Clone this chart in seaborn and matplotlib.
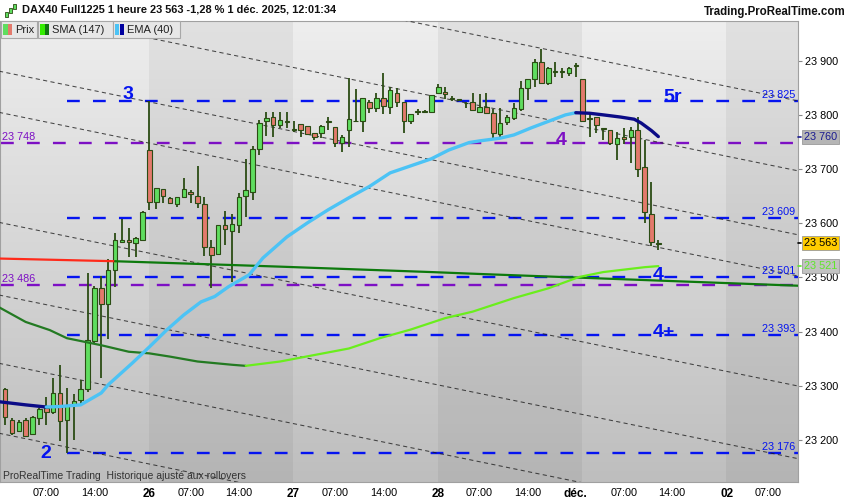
import seaborn as sns
import matplotlib
matplotlib.use("Agg")
import matplotlib.pyplot as plt
import matplotlib.transforms as mtransforms
from matplotlib.patches import Rectangle
from matplotlib.colors import LinearSegmentedColormap
import numpy as np
import pandas as pd

sns.set_style("white")
plt.rcParams['font.family'] = ['Liberation Sans', 'DejaVu Sans']
plt.rcParams['lines.scale_dashes'] = False

# ---- data (hourly bars, index 0 = 25 nov 00:00) ----
bar_idx = list(range(1, 97))
opens = [23294, 23238, 23217, 23237, 23212, 23240, 23260, 23252, 23287, 23238,
         23265, 23274, 23295, 23382, 23480, 23452, 23513, 23566, 23570, 23564,
         23570, 23736, 23640, 23663, 23646, 23636, 23648, 23658, 23651, 23635,
         23556, 23543, 23597, 23585, 23597, 23651, 23658, 23737, 23788, 23796,
         23781, 23786, 23772, 23783, 23780, 23766, 23766, 23787, 23778, 23749,
         23772, 23788, 23789, 23823, 23812, 23831, 23815, 23841, 23824, 23789,
         23805, 23806, 23806, 23840, 23842, 23831, 23829, 23822, 23824, 23806,
         23814, 23803, 23764, 23786, 23794, 23810, 23849, 23866, 23898, 23859,
         23880, 23879, 23877, 23890, 23866, 23792, 23796, 23776, 23773, 23746,
         23759, 23759, 23772, 23703, 23618, 23562]
highs = [23297, 23241, 23237, 23240, 23244, 23260, 23280, 23314, 23338, 23296,
         23285, 23311, 23508, 23484, 23502, 23535, 23583, 23608, 23591, 23575,
         23623, 23826, 23666, 23663, 23648, 23648, 23684, 23662, 23706, 23648,
         23569, 23596, 23622, 23617, 23655, 23719, 23743, 23791, 23806, 23806,
         23806, 23806, 23789, 23783, 23780, 23767, 23781, 23797, 23778, 23763,
         23868, 23847, 23831, 23827, 23840, 23877, 23852, 23849, 23824, 23802,
         23810, 23809, 23837, 23857, 23852, 23834, 23829, 23824, 23841, 23839,
         23840, 23810, 23812, 23800, 23821, 23863, 23867, 23903, 23921, 23888,
         23898, 23886, 23889, 23896, 23866, 23806, 23796, 23776, 23773, 23769,
         23775, 23778, 23796, 23754, 23677, 23569]
lows = [23228, 23209, 23216, 23205, 23211, 23228, 23228, 23249, 23199, 23176,
        23201, 23265, 23289, 23380, 23314, 23386, 23483, 23564, 23538, 23538,
        23569, 23624, 23626, 23637, 23637, 23630, 23646, 23638, 23628, 23540,
        23481, 23542, 23560, 23491, 23583, 23611, 23643, 23726, 23761, 23759,
        23775, 23775, 23769, 23760, 23763, 23754, 23757, 23773, 23741, 23732,
        23741, 23786, 23769, 23803, 23806, 23802, 23801, 23815, 23766, 23784,
        23800, 23805, 23803, 23839, 23829, 23826, 23825, 23812, 23808, 23806,
        23802, 23754, 23760, 23781, 23791, 23808, 23827, 23852, 23858, 23855,
        23869, 23868, 23872, 23869, 23786, 23759, 23767, 23754, 23745, 23716,
        23746, 23711, 23685, 23601, 23558, 23551]
closes = [23243, 23214, 23234, 23208, 23242, 23257, 23252, 23286, 23236, 23265,
          23273, 23295, 23385, 23480, 23451, 23514, 23570, 23569, 23566, 23572,
          23621, 23640, 23666, 23650, 23638, 23648, 23663, 23654, 23637, 23556,
          23542, 23596, 23589, 23598, 23649, 23661, 23737, 23785, 23794, 23781,
          23790, 23788, 23773, 23773, 23764, 23760, 23780, 23788, 23749, 23760,
          23792, 23789, 23831, 23812, 23831, 23816, 23845, 23823, 23788, 23802,
          23807, 23807, 23837, 23851, 23839, 23830, 23828, 23821, 23809, 23814,
          23803, 23767, 23785, 23796, 23812, 23849, 23866, 23898, 23859, 23886,
          23881, 23880, 23886, 23891, 23789, 23795, 23781, 23774, 23749, 23758,
          23755, 23772, 23701, 23620, 23565, 23563]

ema_idx = [0, 4, 7, 9, 12, 15, 16, 19.5, 22, 24.5, 27, 29.5, 31.5, 33.5, 36.5,
           38.5, 42, 45, 48, 51, 54, 57, 60, 63, 65.5, 68.5, 70, 73, 75, 77.5,
           80, 82.5, 84, 86, 88, 90.5, 92.5, 93.5, 95, 96]
ema_val = [23271, 23265, 23261, 23262, 23265, 23287, 23302, 23342, 23372, 23403,
           23431, 23455, 23465, 23483, 23505, 23536, 23575, 23601, 23625, 23647,
           23668, 23693, 23706, 23719, 23735, 23749, 23752, 23757, 23763, 23776,
           23788, 23800, 23804, 23803, 23800, 23796, 23792, 23785, 23771, 23760]

sma_idx = [0, 4, 7.5, 10, 15, 19, 22, 25, 29, 34, 36, 41, 46, 51, 55.5, 60, 65,
           69, 75, 80, 84.5, 88, 94, 96]
sma_val = [23446, 23418, 23403, 23388, 23375, 23363, 23360, 23354, 23345, 23339,
           23337, 23345, 23357, 23369, 23388, 23404, 23425, 23437, 23462, 23480,
           23501, 23510, 23519, 23521]

long_idx = [0, 17, 34, 41, 63, 70, 117]
long_val = [23535, 23530, 23523, 23520, 23510, 23506.5, 23484.5]
long_red_until = 17

level_price = [23825, 23748, 23609, 23501, 23486, 23393, 23176]
level_kind = ['wave', 'pivot', 'wave', 'wave', 'pivot', 'wave', 'wave']
wave_start_idx = 10

channel_idx = [0, 117]
channel_start = [24128, 23999, 23881, 23805, 23602, 23468, 23342, 23213]
channel_end = [23824, 23695, 23577, 23501, 23298, 23164, 23038, 22909]

wave_labels = ['3', '2', '5r', '4', '4', '4+']
wave_x = [18.1, 6.2, 96.7, 81.1, 95.2, 95.2]
wave_y = [23838, 23176, 23832, 23752, 23504, 23398]
wave_kind = ['wave', 'wave', 'wave', 'pivot', 'wave', 'wave']

tick_idx = [7, 14, 21, 28, 35, 42, 49, 56, 63, 70, 77, 84, 91, 98, 105, 112]
tick_lab = ['07:00', '14:00', '26', '07:00', '14:00', '27', '07:00', '14:00',
            '28', '07:00', '14:00', 'déc.', '07:00', '14:00', '02', '07:00']
day_bands = [(21.9, 42.9), (63.9, 84.9), (105.9, 117)]

last_close = 23563
last_ema = 23760
last_sma = 23521

# ---- style ----
GREEN, RED, WICK = '#5fdd5f', '#e37a6c', '#2b4c14'
BLUE, PURPLE = '#0514f0', '#7d10c4'
EMA_UP, EMA_DN = '#4cc3f5', '#0b0b86'
SMA_UP, SMA_DN = '#6aee1c', '#237a22'

fig = plt.figure(figsize=(8.5, 5), dpi=100)
fig.patch.set_facecolor('white')
ax = fig.add_axes([0, 18 / 500, 798 / 850, 461 / 500])
x0, x1 = 0.27, 116.31
y0, y1 = 23122.7, 23973.2
ax.set_xlim(x0, x1)
ax.set_ylim(y0, y1)

# background gradient and day bands
cmap = LinearSegmentedColormap.from_list('bg', ['#eeeeee', '#bebebe'])
ax.imshow(np.linspace(0, 1, 256).reshape(-1, 1), cmap=cmap, aspect='auto',
          extent=[x0, x1, y0, y1], origin='upper', zorder=0)
for a, b in day_bands:
    ax.axvspan(a, b, color='black', alpha=0.05, lw=0, zorder=0.5)

# channel lines
for s, e in zip(channel_start, channel_end):
    ax.plot(channel_idx, [s, e], color='#1e1e1e', lw=0.75, alpha=0.8,
            linestyle=(0, (3.0, 2.4)), zorder=3)

# horizontal levels
for p, k in zip(level_price, level_kind):
    lab = f"{p // 1000} {p % 1000:03d}"
    if k == 'wave':
        ax.plot([wave_start_idx, x1 + 1], [p, p], color=BLUE, lw=1.7,
                linestyle=(0, (9.2, 9.5)), zorder=2)
        ax.annotate(lab, (115.9, p), xytext=(0, 1), textcoords='offset points',
                    ha='right', va='bottom', color=BLUE, fontsize=7.8, zorder=7)
    else:
        ax.plot([x0 + 0.2, x1 + 1], [p, p], color=PURPLE, lw=1.7,
                linestyle=(0, (9.2, 9.5)), zorder=2)
        ax.annotate(lab, (0.55, p), xytext=(0, 1), textcoords='offset points',
                    ha='left', va='bottom', color=PURPLE, fontsize=7.8, zorder=7)

for t, xx, yy, k in zip(wave_labels, wave_x, wave_y, wave_kind):
    ax.text(xx, yy, t, color=BLUE if k == 'wave' else PURPLE, fontsize=14,
            fontweight='bold', ha='left', va='center', zorder=7)

# candles
df = pd.DataFrame(dict(i=bar_idx, o=opens, h=highs, l=lows, c=closes))
up = df.c >= df.o
ax.vlines(df.i, df.l, df.h, color=WICK, lw=1.3, zorder=4)
ax.bar(df.i, (df.c - df.o).abs().clip(lower=1.5), bottom=np.minimum(df.o, df.c),
       width=0.66, color=np.where(up, GREEN, RED), edgecolor=WICK,
       linewidth=0.8, zorder=5)


def draw_trend(xs, ys, up_col, dn_col, lw, z):
    xs, ys = np.asarray(xs, float), np.asarray(ys, float)
    rising = np.diff(ys) >= 0
    start = 0
    for k in range(1, len(rising) + 1):
        if k == len(rising) or rising[k] != rising[start]:
            seg = slice(start, k + 1)
            sns.lineplot(x=xs[seg], y=ys[seg], ax=ax, sort=False, estimator=None,
                         color=up_col if rising[start] else dn_col, lw=lw,
                         zorder=z, solid_capstyle='round')
            start = k


# long average: red then green
li = np.asarray(long_idx)
lv = np.asarray(long_val)
red_part = li <= long_red_until
sns.lineplot(x=li[red_part], y=lv[red_part], ax=ax, color='#ff2a1a', lw=1.6,
             zorder=6, sort=False, estimator=None)
sns.lineplot(x=li[li >= long_red_until], y=lv[li >= long_red_until], ax=ax,
             color='#0d7a0d', lw=1.6, zorder=6, sort=False, estimator=None)

draw_trend(sma_idx, sma_val, SMA_UP, SMA_DN, 1.6, 6)
draw_trend(ema_idx, ema_val, EMA_UP, EMA_DN, 2.4, 6)

# axes cosmetics
for sp in ax.spines.values():
    sp.set_color('#a0a0a0')
    sp.set_linewidth(0.8)
ax.yaxis.tick_right()
yt = list(range(23200, 24000, 100))
ax.set_yticks(yt)
ax.set_yticklabels([f"{v // 1000} {v % 1000:03d}" for v in yt])
ax.tick_params(axis='y', direction='out', length=3, width=0.8, pad=2,
               labelsize=7.8, colors='#888888', labelcolor='black')
ax.set_xticks(tick_idx)
ax.set_xticklabels(tick_lab)
ax.tick_params(axis='x', direction='out', length=3, width=0.8, pad=1,
               labelsize=7.8, colors='#888888', labelcolor='black')
for lab in ax.get_xticklabels():
    if ':' not in lab.get_text():
        lab.set_fontweight('bold')
        lab.set_fontsize(8.5)
        lab.set_horizontalalignment('left' if lab.get_text() != 'déc.' else 'center')
ax.set_xlabel('')
ax.set_ylabel('')
ax.grid(False)

# price tags on the right axis
trans = mtransforms.blended_transform_factory(ax.transAxes, ax.transData)
tags = [(last_ema, '#b5b5b5', '#1a1a90', '#1a1a90'),
        (last_close, '#ffcc00', 'black', 'black'),
        (last_sma, '#c2c2c2', '#5ee62a', '#5ee62a')]
for p, fc, tc, tk in tags:
    ax.annotate(f"{p // 1000} {p % 1000:03d}", (1.0, p), xycoords=trans,
                xytext=(4.2, 0), textcoords='offset points', ha='left',
                va='center', fontsize=7.8, color=tc, annotation_clip=False,
                bbox=dict(boxstyle='square,pad=0.18', fc=fc, ec='#9a9a9a', lw=0.6),
                zorder=10)
    ax.plot([x1, x1 + 0.5], [p, p], color=tk, lw=1.2, clip_on=False, zorder=9)

# header
fig.text(22 / 850, 1 - 10 / 500, 'DAX40 Full1225 1 heure 23 563 -1,28 % 1 déc. 2025, 12:01:34',
         fontsize=7.9, fontweight='bold', va='center', ha='left', color='#111111')
fig.text(846 / 850, 1 - 12 / 500, 'Trading.ProRealTime.com', fontsize=8.3,
         fontweight='bold', va='center', ha='right', color='#111111')
for cx, top in [(6, 11), (10.5, 7), (15, 3)]:
    fig.add_artist(Rectangle(((cx - 1.5) / 850, 1 - (top + 6) / 500), 3 / 850, 5 / 500,
                             transform=fig.transFigure, fc=GREEN, ec=WICK, lw=0.6))

# legend row
boxes = [(1, 37, 'Prix', GREEN, RED),
         (38, 113, 'SMA (147)', '#33ee00', '#117711'),
         (113, 180, 'EMA (40)', EMA_UP, '#0000a0')]
for a, b, name, c1, c2 in boxes:
    fig.add_artist(Rectangle((a / 850, 1 - 38 / 500), (b - a) / 850, 17 / 500,
                             transform=fig.transFigure, fc='#e7e7e7', ec='#a8a8a8', lw=0.8))
    fig.add_artist(Rectangle(((a + 2) / 850, 1 - 35 / 500), 4.5 / 850, 11 / 500,
                             transform=fig.transFigure, fc=c1, lw=0))
    fig.add_artist(Rectangle(((a + 6.5) / 850, 1 - 35 / 500), 4.5 / 850, 11 / 500,
                             transform=fig.transFigure, fc=c2, lw=0))
    fig.text((a + 14) / 850, 1 - 30 / 500, name, fontsize=8, va='center',
             ha='left', color='#222222')

fig.text(3 / 850, 1 - 476 / 500, 'ProRealTime Trading  Historique ajusté aux rollovers',
         fontsize=7.5, va='center', ha='left', color='#333333')

plt.savefig('out.png', dpi=100)
